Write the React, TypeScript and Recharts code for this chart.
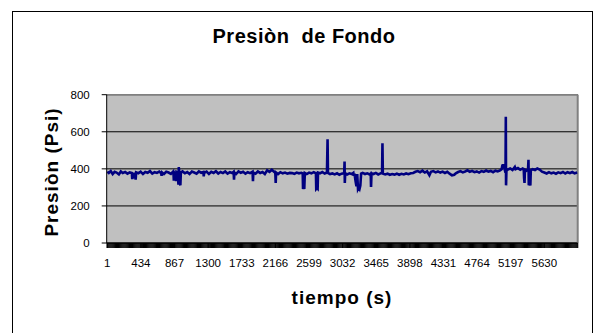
import {
  LineChart,
  Line,
  XAxis,
  YAxis,
  CartesianGrid,
  ReferenceLine,
} from "recharts";

// tiempo (s) and presiòn (psi)
const tiempoS = [
  1, 20, 45, 70, 95, 120, 150, 175, 200, 230,
  260, 290, 317, 322, 330, 345, 352, 366, 372, 400,
  430, 460, 490, 520, 550, 580, 610, 640, 670, 695,
  700, 706, 730, 760, 790, 820, 850, 853, 858, 864,
  880, 887, 892, 910, 917, 922, 928, 936, 942, 948,
  970, 1000, 1030, 1060, 1090, 1120, 1150, 1180, 1210, 1238,
  1243, 1248, 1280, 1310, 1340, 1370, 1400, 1430, 1460, 1490,
  1520, 1550, 1580, 1610, 1628, 1633, 1638, 1660, 1690, 1720,
  1750, 1780, 1810, 1840, 1872, 1877, 1882, 1910, 1940, 1970,
  2000, 2030, 2060, 2090, 2120, 2145, 2165, 2170, 2175, 2200,
  2230, 2260, 2290, 2320, 2350, 2380, 2410, 2440, 2470, 2500,
  2518, 2522, 2530, 2538, 2545, 2570, 2600, 2630, 2660, 2688,
  2692, 2700, 2710, 2715, 2740, 2770, 2800, 2830, 2838, 2843,
  2870, 2900, 2930, 2960, 2990, 3020, 3052, 3057, 3060, 3065,
  3090, 3120, 3150, 3170, 3175, 3185, 3200, 3210, 3220, 3230,
  3240, 3250, 3260, 3270, 3290, 3320, 3350, 3380, 3394, 3398,
  3404, 3430, 3460, 3490, 3520, 3540, 3545, 3550, 3580, 3610,
  3640, 3670, 3700, 3730, 3760, 3790, 3820, 3850, 3880, 3910,
  3940, 3970, 4000, 4030, 4060, 4090, 4120, 4150, 4170, 4200,
  4230, 4260, 4290, 4320, 4350, 4380, 4410, 4440, 4470, 4490,
  4520, 4550, 4580, 4610, 4640, 4670, 4700, 4730, 4760, 4790,
  4820, 4850, 4880, 4910, 4940, 4970, 5000, 5030, 5060, 5080,
  5090, 5110, 5120, 5130, 5134, 5137, 5142, 5160, 5190, 5220,
  5250, 5260, 5290, 5320, 5350, 5365, 5370, 5375, 5380, 5400,
  5420, 5426, 5430, 5440, 5450, 5456, 5480, 5510, 5540, 5570,
  5600, 5630, 5660, 5690, 5720, 5750, 5780, 5810, 5840, 5870,
  5900, 5930, 5960, 5990, 6020, 6055,
];

const presionPsi = [
  385, 378, 388, 372, 384, 380, 370, 386, 378, 383,
  374, 381, 378, 345, 372, 350, 380, 342, 381, 376,
  385, 372, 383, 379, 388, 374, 382, 378, 385, 376,
  362, 380, 372, 384, 380, 373, 386, 378, 336, 380,
  372, 333, 384, 380, 314, 410, 380, 318, 312, 380,
  386, 376, 383, 372, 385, 380, 374, 386, 379, 383,
  360, 378, 385, 372, 384, 378, 387, 375, 383, 377,
  386, 374, 382, 378, 384, 342, 380, 372, 386, 379,
  384, 374, 382, 377, 385, 333, 380, 374, 386, 378,
  383, 372, 392, 384, 395, 386, 378, 324, 380, 372,
  382, 376, 380, 374, 378, 377, 373, 380, 376, 379,
  376, 292, 300, 292, 378, 372, 380, 376, 382, 376,
  292, 296, 292, 380, 376, 383, 375, 380, 560, 378,
  372, 375, 370, 376, 368, 374, 378, 440, 324, 376,
  370, 376, 372, 378, 362, 374, 330, 306, 372, 292,
  300, 292, 310, 374, 378, 372, 376, 370, 374, 302,
  376, 372, 378, 370, 376, 380, 538, 374, 370, 374,
  368, 372, 369, 374, 368, 373, 370, 375, 371, 376,
  378, 384, 388, 382, 390, 380, 387, 366, 384, 388,
  381, 386, 380, 385, 378, 384, 374, 365, 368, 376,
  383, 388, 381, 386, 392, 384, 389, 382, 386, 380,
  388, 384, 391, 385, 389, 382, 390, 386, 392, 398,
  418, 422, 395, 380, 681, 311, 390, 396, 402, 394,
  410, 398, 404, 395, 402, 396, 348, 324, 395, 390,
  396, 449, 311, 330, 311, 392, 398, 394, 402, 396,
  385, 380, 375, 382, 376, 380, 374, 381, 377, 383,
  375, 382, 377, 383, 376, 380,
];

const xTickLabels = [1, 434, 867, 1300, 1733, 2166, 2599, 3032, 3465, 3898, 4331, 4764, 5197, 5630];
const yTicks = [0, 200, 400, 600, 800];

const data = tiempoS.map((t, i) => ({ t, p: presionPsi[i] }));

// dense category tick marks that make the black band under the axis
const markTicks = Array.from({ length: 506 }, (_, i) => i * 12);
const xTicks = Array.from(new Set([...markTicks, ...xTickLabels])).sort((a, b) => a - b);

const font = "'Liberation Sans', Arial, sans-serif";

function XTick(props: any) {
  const { x, y, payload } = props;
  if (!xTickLabels.includes(payload.value)) return <g />;
  return (
    <text x={x} y={y} dy="0.71em" textAnchor="middle" fontSize={11.5} fontFamily={font} fill="#000">
      {payload.value}
    </text>
  );
}

export default function App() {
  return (
    <div style={{ position: "fixed", left: 0, top: 0, width: 595, height: 333, background: "#fff", overflow: "hidden" }}>
      <LineChart
        width={595}
        height={333}
        data={data}
        margin={{ top: 94.7, right: 17.3, left: 0, bottom: 0 }}
      >
        <CartesianGrid vertical={false} stroke="#000" fill="#C0C0C0" />
        <XAxis
          dataKey="t"
          type="number"
          domain={[-7, 6060]}
          ticks={xTicks}
          interval={0}
          allowDataOverflow
          height={90}
          tickSize={5}
          tickMargin={11}
          tickLine={{ stroke: "#000", strokeWidth: 1.2 }}
          axisLine={{ stroke: "#000" }}
          tick={<XTick />}
        />
        <YAxis
          type="number"
          domain={[0, 800]}
          ticks={yTicks}
          interval={0}
          width={106.7}
          tickSize={5}
          tickMargin={12}
          tickLine={{ stroke: "#000" }}
          axisLine={{ stroke: "#000" }}
          tick={{ fill: "#000", fontSize: 11.5, fontFamily: font }}
        />
        <ReferenceLine y={800} stroke="#808080" strokeWidth={1.5} />
        <ReferenceLine x={6060} stroke="#808080" strokeWidth={2} />
        <Line
          type="linear"
          dataKey="p"
          stroke="#000080"
          strokeWidth={2.6}
          dot={false}
          isAnimationActive={false}
        />
      </LineChart>
      <div
        style={{
          position: "absolute",
          left: 12,
          top: 11,
          width: 581,
          height: 340,
          border: "1px solid #000",
          boxSizing: "border-box",
          pointerEvents: "none",
        }}
      />
      <svg
        width={595}
        height={333}
        style={{ position: "absolute", left: 0, top: 0, pointerEvents: "none" }}
      >
        <text
          x={304}
          y={43}
          textAnchor="middle"
          fontSize={20}
          fontWeight="bold"
          fontFamily={font}
          letterSpacing={0.5}
          style={{ whiteSpace: "pre" }}
        >
          {"Presiòn  de Fondo"}
        </text>
        <text
          x={342}
          y={304}
          textAnchor="middle"
          fontSize={19}
          fontWeight="bold"
          fontFamily={font}
          letterSpacing={1}
        >
          tiempo (s)
        </text>
        <text
          transform="translate(58,172) rotate(-90)"
          textAnchor="middle"
          fontSize={19}
          fontWeight="bold"
          fontFamily={font}
          letterSpacing={1}
        >
          Presiòn (Psi)
        </text>
      </svg>
    </div>
  );
}
